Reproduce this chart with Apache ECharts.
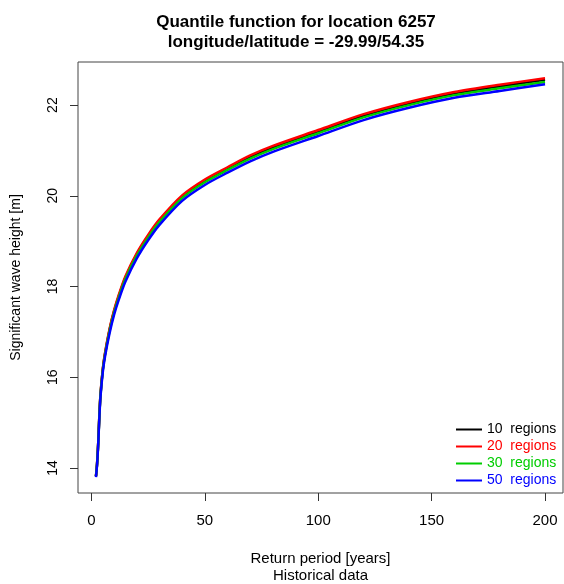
<!DOCTYPE html>
<html lang="en">
<head>
    <meta charset="UTF-8">
    <title>Quantile function</title>
    <script type="text/javascript" src="https://cdn.jsdelivr.net/npm/echarts@6/dist/echarts.min.js"></script>
    <style>
        html, body { margin: 0; padding: 0; background: #fff; }
    </style>
</head>
<body>
<div id="main" style="width: 564px;height:584px;"></div>

<script type="text/javascript">
    // return periods (years)
    var periods = [2, 2.5, 3, 3.5, 4, 5, 6, 8, 10, 12, 15, 20, 25, 30, 40, 50, 60, 70, 80, 100, 120, 140, 160, 180, 200];
    // significant wave height per number of regions
    var reg10 = [13.82, 14.11, 14.56, 15.16, 15.62, 16.17, 16.52, 17.05, 17.46, 17.78, 18.20, 18.71, 19.11, 19.45, 19.98, 20.33, 20.60, 20.85, 21.07, 21.42, 21.77, 22.04, 22.26, 22.41, 22.56];
    var reg20 = [13.82, 14.11, 14.57, 15.17, 15.63, 16.18, 16.54, 17.07, 17.48, 17.81, 18.23, 18.74, 19.14, 19.48, 20.01, 20.36, 20.63, 20.89, 21.10, 21.45, 21.80, 22.07, 22.29, 22.45, 22.59];
    var reg30 = [13.82, 14.10, 14.55, 15.15, 15.60, 16.15, 16.50, 17.02, 17.43, 17.75, 18.17, 18.68, 19.08, 19.42, 19.95, 20.30, 20.57, 20.82, 21.03, 21.38, 21.73, 22.00, 22.22, 22.37, 22.51];
    var reg50 = [13.80, 14.08, 14.53, 15.12, 15.57, 16.11, 16.46, 16.97, 17.38, 17.70, 18.11, 18.62, 19.02, 19.36, 19.89, 20.24, 20.51, 20.76, 20.97, 21.32, 21.67, 21.94, 22.16, 22.31, 22.46];

    var xTicks = [0, 50, 100, 150, 200];
    var yTicks = [14, 16, 18, 20, 22];

    var names = ['10  regions', '20  regions', '30  regions', '50  regions'];
    var colors = ['#000000', '#ff0000', '#00cd00', '#0000ff'];
    var values = [reg10, reg20, reg30, reg50];

    function pairs(ys) {
        var out = [];
        for (var i = 0; i < periods.length; i++) {
            out.push([periods[i], ys[i]]);
        }
        return out;
    }

    var series = [];
    var legendData = [];
    for (var k = 0; k < names.length; k++) {
        series.push({
            name: names[k],
            type: 'line',
            data: pairs(values[k]),
            showSymbol: false,
            smooth: 0.3,
            lineStyle: { color: colors[k], width: 2.5 },
            itemStyle: { color: colors[k] }
        });
        legendData.push({ name: names[k], textStyle: { color: colors[k] } });
    }

    var myChart = echarts.init(document.getElementById('main'));
    myChart.setOption({
        animation: false,
        textStyle: { fontFamily: 'Liberation Sans, Arial, sans-serif' },
        title: {
            text: 'Quantile function for location 6257\nlongitude/latitude = -29.99/54.35',
            left: 291,
            textAlign: 'center',
            top: 7,
            textStyle: { fontSize: 17, fontWeight: 'bold', color: '#000', lineHeight: 20 }
        },
        legend: {
            orient: 'vertical',
            left: 451,
            top: 416,
            icon: 'rect',
            itemWidth: 26,
            itemHeight: 2,
            itemGap: 0,
            textStyle: { fontSize: 14, lineHeight: 17 },
            data: legendData
        },
        grid: {
            left: 78,
            right: 1,
            top: 62,
            bottom: 91,
            outerBoundsMode: 'none',
            containLabel: false,
            show: true,
            borderColor: '#444',
            borderWidth: 1
        },
        xAxis: {
            type: 'value',
            min: -5.92,
            max: 207.92,
            name: 'Return period [years]\nHistorical data',
            nameLocation: 'middle',
            nameGap: 57,
            nameTextStyle: { fontSize: 15, color: '#000', lineHeight: 17 },
            splitLine: { show: false },
            axisLine: { show: false, onZero: false },
            axisTick: { show: true, length: 8, inside: false, customValues: xTicks, lineStyle: { color: '#333' } },
            axisLabel: { customValues: xTicks, fontSize: 15, color: '#000', margin: 20 }
        },
        yAxis: {
            type: 'value',
            min: 13.45,
            max: 22.95,
            name: 'Significant wave height [m]',
            nameLocation: 'middle',
            nameGap: 55,
            nameRotate: 90,
            nameTextStyle: { fontSize: 14, color: '#000' },
            splitLine: { show: false },
            axisLine: { show: false, onZero: false },
            axisTick: { show: true, length: 8, customValues: yTicks, lineStyle: { color: '#333' } },
            axisLabel: { customValues: yTicks, fontSize: 14, color: '#000', rotate: 90, margin: 18 }
        },
        series: series
    });
</script>
</body>
</html>
